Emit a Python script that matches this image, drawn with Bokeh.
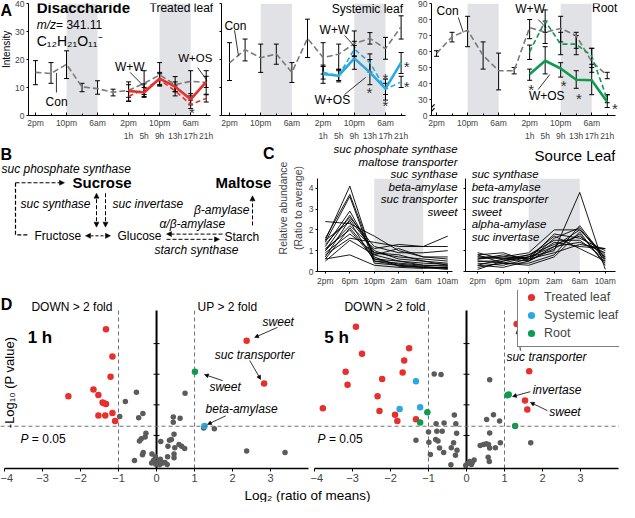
import math
from bokeh.plotting import figure
from bokeh.layouts import column, row
from bokeh.models import (Range1d, LinearAxis, FixedTicker, BoxAnnotation, Span, Label, LabelSet,
                          ColumnDataSource, Whisker, TeeHead, Arrow, NormalHead, Legend, LegendItem)
from bokeh.core.properties import value
from bokeh.embed import file_html
from bokeh.resources import INLINE

FONT = "Liberation Sans"
RED = "#e5302d"
BLUE = "#27a9e1"
GREEN = "#0f9b4e"
GRAYPT = "#5b5b5b"
CONCOL = "#7a7a7a"
SHADE = "#e1e2e6"

# ---------------- Panel A data ----------------
CON_HOURS = [0, 4, 8, 12, 16, 20, 24, 28, 32, 36, 40, 44]
TRT_HOURS = [24, 28, 32, 36, 40, 44]
CLOCK_TICKS = [0, 8, 16, 24, 32, 40]
CLOCK_LABELS = ["2pm", "10pm", "6am", "2pm", "10pm", "6am"]
ELAPSED_LABELS = ["1h", "5h", "9h", "13h", "17h", "21h"]
NIGHTS = [(8, 16), (32, 40)]

TL_CON = [15.4, 15.0, 18.3, 10.2, 9.6, 8.3, 9.0, 11.5, 14.5, 11.0, 12.2, 11.8]
TL_CON_LO = [11.0, 11.5, 13.2, 8.5, 7.6, 7.0, 5.2, 6.8, 10.8, 8.5, 7.0, 7.6]
TL_CON_HI = [19.6, 18.9, 23.1, 11.5, 12.4, 9.4, 12.0, 16.0, 18.9, 13.9, 16.0, 16.0]
TL_WW = [6.8, 9.4, 12.7, 8.8, 4.0, 6.1]
TL_WW_LO = [5.0, 7.5, 10.5, 7.0, 2.5, 4.8]
TL_WW_HI = [8.6, 11.3, 14.9, 10.6, 5.5, 7.4]
TL_WOS = [8.8, 8.2, 13.2, 10.3, 5.8, 12.0]
TL_WOS_LO = [6.5, 6.5, 11.0, 8.5, 3.8, 10.0]
TL_WOS_HI = [11.0, 10.0, 15.4, 12.0, 7.8, 14.0]

SL_CON = [18.8, 23.5, 20.6, 22.0, 15.4, 27.5, 20.7, 21.9, 25.7, 27.5, 23.9, 31.7]
SL_CON_LO = [12.5, 19.5, 15.4, 18.3, 11.8, 20.7, 14.8, 16.5, 21.3, 25.5, 20.1, 27.3]
SL_CON_HI = [26.0, 27.3, 25.5, 25.5, 18.9, 34.4, 26.0, 25.5, 30.2, 29.6, 27.9, 35.6]
SL_WW = [15.4, 14.2, 23.7, 18.9, 9.4, 12.0]
SL_WW_LO = [13.0, 12.5, 21.0, 15.5, 7.5, 10.0]
SL_WW_HI = [17.5, 16.0, 26.5, 22.0, 11.5, 14.0]
SL_WOS = [14.8, 14.2, 20.4, 15.4, 9.6, 18.9]
SL_WOS_LO = [11.5, 12.0, 16.5, 11.0, 5.5, 15.0]
SL_WOS_HI = [18.0, 16.5, 25.0, 20.0, 13.0, 22.5]

RT_CON = [58.8, 69.2, 73.3, 57.5, 48.0, 48.0, 75.0, 72.0, 74.4, 70.0, 53.7, 45.0]
RT_CON_LO = [57.0, 66.0, 63.0, 49.0, 36.0, 46.0, 68.0, 65.0, 66.0, 62.0, 47.0, 43.0]
RT_CON_HI = [60.5, 72.0, 82.0, 66.0, 59.0, 50.0, 80.0, 79.0, 82.0, 72.0, 62.0, 47.0]
RT_WW = [59.8, 79.0, 64.6, 64.6, 57.3, 30.2]
RT_WW_LO = [55.0, 72.0, 58.0, 58.0, 50.0, 28.0]
RT_WW_HI = [64.0, 86.0, 72.0, 70.0, 62.0, 33.0]
RT_WOS = [45.8, 54.2, 49.4, 42.3, 42.0, 28.5]
RT_WOS_LO = [42.0, 46.0, 44.0, 37.0, 33.0, 25.0]
RT_WOS_HI = [49.0, 63.0, 53.0, 48.0, 52.0, 33.0]
RT_YTICKS = [20, 30, 40, 50, 60, 70, 80, 90]
RT_YLABELS = ["0", "30", "40", "50", "60", "70", "80", "90"]

# significance asterisks (hour, intensity)
TL_STARS = [(40.3, 1.0)]
SL_STARS = [(35.9, 8.3), (40.0, 13.3), (40.0, 3.6), (45.4, 17.6), (45.4, 10.4)]
RT_STARS = [(24.4, 36.2), (32.8, 38.7), (36.7, 30.6), (46.0, 24.4)]

# ---------------- Panel C data ----------------
C_TIMES = [0, 4, 8, 12, 16, 20]
C_LABELS = ["2pm", "6pm", "10pm", "2am", "6am", "10am"]
C_LEFT = [
    [1.5, 4.1, 0.5, 0.3, 0.2, 0.2],
    [1.6, 3.7, 0.6, 0.35, 0.25, 0.15],
    [1.4, 3.6, 0.4, 0.3, 0.2, 0.1],
    [1.2, 2.9, 0.8, 0.5, 0.3, 0.3],
    [2.4, 2.3, 1.7, 1.0, 0.7, 0.6],
    [0.7, 2.5, 1.0, 0.6, 0.5, 0.4],
    [0.6, 0.8, 0.3, 0.2, 0.15, 0.2],
    [1.0, 2.2, 1.1, 1.3, 1.2, 1.7],
    [0.9, 1.8, 0.9, 0.8, 0.5, 0.3],
    [1.3, 2.6, 1.2, 0.9, 0.9, 1.0],
    [0.5, 1.5, 0.8, 1.1, 0.7, 0.7],
    [1.1, 2.0, 0.6, 0.5, 0.4, 0.35],
    [0.8, 1.6, 1.4, 1.2, 1.2, 1.2],
    [1.5, 2.4, 0.5, 0.4, 0.3, 0.25],
    [0.6, 2.1, 0.7, 0.25, 0.2, 0.15],
    [1.0, 2.7, 0.9, 0.7, 0.6, 0.5],
]
C_RIGHT = [
    [0.1, 0.5, 0.7, 1.0, 3.8, 0.1],
    [0.8, 0.9, 0.5, 1.6, 2.1, 0.5],
    [0.6, 0.7, 0.9, 2.0, 2.0, 0.8],
    [0.5, 0.4, 0.4, 0.8, 2.2, 0.6],
    [0.7, 0.6, 0.8, 1.3, 1.7, 0.7],
    [0.4, 0.3, 0.6, 1.8, 1.6, 1.0],
    [0.9, 0.6, 0.7, 1.2, 1.4, 0.9],
    [0.3, 0.6, 0.5, 1.1, 1.8, 0.4],
    [0.6, 0.8, 0.6, 1.4, 1.2, 1.1],
    [0.2, 0.4, 0.3, 0.7, 1.9, 0.3],
    [0.5, 0.5, 0.8, 1.5, 1.5, 0.6],
    [0.7, 0.7, 0.6, 0.9, 1.3, 1.1],
    [0.8, 0.4, 0.7, 1.7, 1.1, 0.5],
    [0.3, 0.2, 0.5, 1.2, 2.0, 0.7],
]
C_LEFT_GENES = ["suc phosphate synthase", "maltose transporter", "suc synthase",
                "beta-amylase", "suc transporter", "sweet"]
C_RIGHT_GENES = ["suc synthase", "beta-amylase", "suc transporter", "sweet",
                 "alpha-amylase", "suc invertase"]

# ---------------- Panel D data ----------------
D1_RED_X = [-1.33, -1.16, -1.21, -1.66, -1.53, -2.32, -1.42, -1.33, -1.38, -1.16, -1.53, -1.35, -1.09, 2.37, 2.83]
D1_RED_Y = [4.47, 3.58, 2.92, 2.50, 2.32, 2.28, 2.08, 2.03, 2.05, 1.73, 1.65, 1.65, 1.47, 4.09, 2.70]
D1_BLUE_X = [1.26]
D1_BLUE_Y = [1.31]
D1_GREEN_X = [1.01]
D1_GREEN_Y = [3.08]
D1_GRAY_X = [-0.53, -0.82, -0.36, -0.47, -0.97, 0.75, 0.44, 0.62, 0.44, 1.24, 1.52, -0.28, -0.40, -0.45,
             -0.30, 0.46, 0.34, 0.39, 0.11, 0.59, 0.66, 0.74, 0.48, 0.30, 0.46, 0.46, 0.29, -0.35, -0.37,
             -0.58, -0.12, -0.03, -0.08, 0.00, 0.05, 0.12, 0.16, 0.22, 0.28, 0.08, -0.02, -0.13, 0.10,
             2.37, 3.38]
D1_GRAY_Y = [2.41, 2.11, 1.72, 1.58, 1.62, 2.38, 1.60, 1.56, 1.43, 1.24, 1.22, 1.07, 0.89, 0.82,
             0.95, 1.04, 0.84, 0.87, 0.80, 0.70, 0.65, 0.57, 0.60, 0.65, 0.39, 0.27, 0.30, 0.44, 0.37,
             0.18, 0.39, 0.30, 0.18, 0.12, 0.08, 0.15, 0.10, 0.12, 0.05, 0.04, 0.06, 0.10, 0.22,
             0.49, 0.44]

D2_RED_X = [-2.91, -2.75, -1.51, -1.64, -3.18, -1.68, -3.13, -2.22, -2.34, -3.78, -2.29, -1.88, -1.82, -1.33,
            1.32, 1.65, 1.54, 1.60]
D2_RED_Y = [4.55, 3.67, 3.85, 3.45, 3.08, 3.06, 2.66, 2.84, 2.28, 1.89, 1.80, 1.68, 1.47, 1.53,
            4.64, 3.10, 2.14, 1.85]
D2_BLUE_X = [-1.33, -1.76, -1.22]
D2_BLUE_Y = [2.77, 1.86, 1.92]
D2_GREEN_X = [-1.03, -1.22, 1.08, 1.11, 1.28]
D2_GREEN_Y = [1.76, 1.42, 2.31, 2.34, 1.31]
D2_GRAY_X = [-0.85, -0.67, 0.61, -0.32, -0.80, -0.59, -0.28, -1.00, -0.78, -0.64, -0.26, -1.33, -0.99,
             -0.81, -0.75, -0.34, -0.71, -0.60, -0.40, -0.25, -0.29, -0.95, -0.41, 0.02, 0.08, 0.13,
             0.20, 0.15, -0.02, 0.53, 0.71, 0.87, 0.61, 0.36, 0.45, 0.52, 0.58, 0.89, 0.61, 0.76,
             0.57, 0.60, 1.69]
D2_GRAY_Y = [3.01, 2.99, 2.82, 1.67, 1.38, 1.41, 1.38, 1.11, 1.14, 1.14, 1.07, 0.84, 0.78,
             0.87, 0.82, 0.76, 0.59, 0.44, 0.60, 0.52, 0.35, 0.38, 0.04, 0.08, 0.15, 0.05,
             0.20, 0.12, 0.02, 1.52, 1.68, 1.47, 1.08, 0.67, 0.70, 0.73, 0.70, 0.76, 0.59, 0.60,
             0.29, 0.15, 0.76]
D_XTICKS = [-4, -3, -2, -1, 0, 1, 2, 3]
FOLD_LIMIT = 1.0           # log2(2)
P_LIMIT = 0.05
D_YTICKS = [1, 2, 3, 4]
D_YMIN = -0.08
D_LINE_TOP = 5.08          # top end of the threshold / zero lines


# ---------------- helpers ----------------
def base_fig(width, height, xr, yr, bl, br, bt, bb):
    p = figure(width=width, height=height, x_range=Range1d(*xr), y_range=Range1d(*yr),
               toolbar_location=None, output_backend="svg", x_axis_type=None, y_axis_type=None)
    p.min_border_left = bl
    p.min_border_right = br
    p.min_border_top = bt
    p.min_border_bottom = bb
    p.outline_line_color = None
    p.background_fill_color = "white"
    p.border_fill_color = "white"
    return p


def style_axis(ax, size="8.5px", tin=0, tout=3, standoff=2):
    ax.axis_line_color = "black"
    ax.axis_line_width = 1
    ax.major_tick_line_color = "black"
    ax.major_tick_in = tin
    ax.major_tick_out = tout
    ax.minor_tick_line_color = None
    ax.major_label_text_font = FONT
    ax.major_label_text_font_size = size
    ax.major_label_standoff = standoff


def text(p, x, y, t, size="12px", style="normal", align="left", baseline="middle", color="black", angle=0.0):
    p.add_layout(Label(x=x, y=y, text=t, text_font=FONT, text_font_size=size, text_font_style=style,
                       text_align=align, text_baseline=baseline, text_color=color, angle=angle))


def arrow(p, x0, y0, x1, y1, dash="solid", size=5, width=1.0, both=False):
    head = NormalHead(size=size, fill_color="black", line_color="black", line_width=0.5)
    start = NormalHead(size=size, fill_color="black", line_color="black", line_width=0.5) if both else None
    p.add_layout(Arrow(x_start=x0, y_start=y0, x_end=x1, y_end=y1, start=start, end=head,
                       line_color="black", line_width=width, line_dash=dash))


def stars(p, pts):
    src = ColumnDataSource(dict(x=[a for a, b in pts], y=[b for a, b in pts], t=["*"] * len(pts)))
    p.add_layout(LabelSet(x="x", y="y", text="t", source=src, text_font=value(FONT),
                          text_font_size="15px", text_align="center", text_baseline="middle",
                          text_color="#333333"))


def leaders(p, segs):
    p.segment(x0=[s[0] for s in segs], y0=[s[1] for s in segs], x1=[s[2] for s in segs],
              y1=[s[3] for s in segs], line_color="black", line_width=0.8)


def series(p, xs, ys, lo, hi, color, dash, width):
    p.line(xs, ys, line_color=color, line_width=width, line_dash=dash)
    src = ColumnDataSource(dict(x=xs, lo=lo, hi=hi))
    p.add_layout(Whisker(source=src, base="x", lower="lo", upper="hi", line_color="black", line_width=1,
                         upper_head=TeeHead(size=5, line_color="black", line_width=1),
                         lower_head=TeeHead(size=5, line_color="black", line_width=1)))


def time_panel(width, bl, br, xr, yr, yticks, ylabels, axis_end):
    p = base_fig(width, 144, xr, yr, bl, br, 3, 29)
    for a, b in NIGHTS:
        p.add_layout(BoxAnnotation(left=a, right=b, fill_color=SHADE, fill_alpha=1.0,
                                   line_color=None, level="underlay"))
    yax = LinearAxis(ticker=FixedTicker(ticks=yticks),
                     major_label_overrides={t: l for t, l in zip(yticks, ylabels)})
    style_axis(yax, "8.5px", 0, 2, 2)
    p.add_layout(yax, "left")
    ax1 = LinearAxis(ticker=FixedTicker(ticks=CLOCK_TICKS, minor_ticks=CON_HOURS), bounds=(xr[0], axis_end),
                     major_label_overrides={t: l for t, l in zip(CLOCK_TICKS, CLOCK_LABELS)})
    style_axis(ax1, "8.5px", 3, 0, 2)
    ax1.minor_tick_line_color = "black"
    ax1.minor_tick_in = 2
    ax1.minor_tick_out = 0
    p.add_layout(ax1, "below")
    ax2 = LinearAxis(ticker=FixedTicker(ticks=TRT_HOURS),
                     major_label_overrides={t: l for t, l in zip(TRT_HOURS, ELAPSED_LABELS)})
    style_axis(ax2, "8.5px", 0, 0, 0)
    ax2.axis_line_color = None
    ax2.major_tick_line_color = None
    p.add_layout(ax2, "below")
    return p


def full_panel(p, con, con_lo, con_hi, ww, ww_lo, ww_hi, wos, wos_lo, wos_hi, color):
    series(p, CON_HOURS, con, con_lo, con_hi, CONCOL, "6 3", 1.6)
    series(p, TRT_HOURS, ww, ww_lo, ww_hi, color, "5 3", 1.6)
    series(p, TRT_HOURS, wos, wos_lo, wos_hi, color, "solid", 2.6)


# ---------------- Panel A ----------------
A_TICKS = [0, 10, 20, 30, 40]
a0 = base_fig(12, 144, (0, 12), (144, 0), 0, 0, 0, 0)
text(a0, 0, 9, "A", "16px", "bold")
text(a0, 6, 59, "Intensity", "10px", align="center", angle=math.pi / 2)

a1 = time_panel(204, 15, 1, (-1.8, 46.4), (0, 40), A_TICKS, [str(t) for t in A_TICKS], 45.2)
full_panel(a1, TL_CON, TL_CON_LO, TL_CON_HI, TL_WW, TL_WW_LO, TL_WW_HI, TL_WOS, TL_WOS_LO, TL_WOS_HI, RED)
leaders(a1, [(5.4, 8.2, 5.4, 15.2), (24.4, 15.4, 28.5, 9.6), (41.8, 17.1, 44.2, 12.6)])
text(a1, 0.3, 38.4, "Disaccharide", "15px", "bold")
text(a1, 0.3, 32.4, "m/z", "12px", "italic")
text(a1, 5.3, 32.4, "= 341.11", "12px")
text(a1, 0.3, 26.6, "C\u2081\u2082H\u2082\u2081O\u2081\u2081\u207b", "14px")
text(a1, 29.4, 38.4, "Treated leaf", "12px")
text(a1, 2.6, 5.0, "Con", "12px")
text(a1, 20.5, 17.5, "W+W", "12px")
text(a1, 36.8, 20.4, "W+OS", "11.5px")
stars(a1, TL_STARS)

a2 = time_panel(199, 5, 3, (-2.05, 46.92), (0, 40), A_TICKS, ["" for t in A_TICKS], 45.2)
full_panel(a2, SL_CON, SL_CON_LO, SL_CON_HI, SL_WW, SL_WW_LO, SL_WW_HI, SL_WOS, SL_WOS_LO, SL_WOS_HI, BLUE)
leaders(a2, [(1.3, 30.4, 2.3, 21.4), (29.5, 28.6, 32.3, 24.3), (29.5, 7.5, 34.9, 13.6)])
text(a2, -1.3, 32.1, "Con", "12px")
text(a2, 26.2, 38.2, "Systemic leaf", "12px")
text(a2, 23.1, 30.4, "W+W", "12px")
text(a2, 21.8, 5.7, "W+OS", "12px")
stars(a2, SL_STARS)

a3 = time_panel(204, 15, 0, (-1.3, 47.16), (20, 90), RT_YTICKS, RT_YLABELS, 46.2)
full_panel(a3, RT_CON, RT_CON_LO, RT_CON_HI, RT_WW, RT_WW_LO, RT_WW_HI, RT_WOS, RT_WOS_LO, RT_WOS_HI, GREEN)
leaders(a3, [(5.6, 81.3, 6.9, 71.9), (26.2, 80.0, 28.2, 75.0), (26.2, 36.3, 29.2, 45.6)])
text(a3, 0.0, 85.6, "Con", "12px")
text(a3, 20.3, 86.3, "W+W", "12px")
text(a3, 46.6, 86.9, "Root", "12px", align="right")
text(a3, 23.8, 32.5, "W+OS", "12px")
stars(a3, RT_STARS)
# axis break marks on the root intensity axis
a3.segment(x0=[-1.3, -1.3], y0=[22.6, 25.0], x1=[-0.5, -0.5], y1=[24.6, 27.0], line_color="black", line_width=1.2)

# ---------------- Panel B (pathway diagram) ----------------
b = base_fig(274, 146, (0, 274), (146, 0), 0, 0, 0, 0)
text(b, 0, 11, "B", "16px", "bold")
text(b, 274, 10, "C", "16px", "bold", align="right")
text(b, 1, 28, "suc phosphate synthase", "12px", "italic")
text(b, 72, 44, "Sucrose", "15px", "bold")
text(b, 215, 44, "Maltose", "15px", "bold")
arrow(b, 15, 44, 64, 44, "4 2")
b.line([15, 15, 28], [44, 104, 104], line_color="black", line_width=1.2, line_dash="4 2")
text(b, 20, 68, "suc synthase", "12px", "italic")
text(b, 112, 68, "suc invertase", "12px", "italic")
arrow(b, 96, 56, 96, 95, "4 2", both=True)
arrow(b, 105, 56, 105, 95, "4 2")
text(b, 34, 105, "Fructose", "12px")
arrow(b, 85, 105, 110, 105, "3 2", both=True)
text(b, 117, 105, "Glucose", "12px")
text(b, 159, 91, "\u03b1/\u03b2-amylase", "12px", "italic")
arrow(b, 222, 103, 166, 103, "4 2")
arrow(b, 166, 109, 219, 109, "4 2")
text(b, 224, 106, "Starch", "12px")
text(b, 154, 121, "starch synthase", "12px", "italic")
text(b, 249, 75, "\u03b2-amylase", "12px", "italic", align="right")
arrow(b, 252, 93, 252, 59, "4 2")


# ---------------- Panel C ----------------
def c_panel(width, bl, br, xr, data, axis_end, ylabel=None, show_ylabels=True):
    p = base_fig(width, 146, xr, (0, 6.1), bl, br, 0, 19)
    p.add_layout(BoxAnnotation(left=8, right=16, bottom=0, top=4.45, fill_color=SHADE, fill_alpha=1.0,
                               line_color=None, level="underlay"))
    p.multi_line(xs=[C_TIMES] * len(data), ys=data, line_color="black", line_width=0.9)
    yt = [0, 1, 2, 3, 4]
    yax = LinearAxis(ticker=FixedTicker(ticks=yt), bounds=(0, 4.45),
                     major_label_overrides={t: (str(t) if show_ylabels else "") for t in yt})
    style_axis(yax, "8.5px", 0, 2, 2)
    if ylabel:
        yax.axis_label = ylabel
        yax.axis_label_text_font = FONT
        yax.axis_label_text_font_size = "10.5px"
        yax.axis_label_text_font_style = "normal"
        yax.axis_label_standoff = 2
    p.add_layout(yax, "left")
    xax = LinearAxis(ticker=FixedTicker(ticks=C_TIMES), bounds=(xr[0], axis_end),
                     major_label_overrides={t: l for t, l in zip(C_TIMES, C_LABELS)})
    style_axis(xax, "8.5px", 0, 2, 2)
    p.add_layout(xax, "below")
    return p


c1 = c_panel(184, 40, 0, (-1.28, 21.76), C_LEFT, 20.8, "Relative abundance\n(Ratio to average)")
for i, g in enumerate(C_LEFT_GENES):
    text(c1, 21.6, 5.87 - i * 0.6, g, "11.5px", "italic", align="right")
c2 = c_panel(161, 7, 4, (-1.9, 21.6), C_RIGHT, 21.6, show_ylabels=False)
for i, g in enumerate(C_RIGHT_GENES):
    text(c2, -0.94, 4.66 - i * 0.6, g, "11.5px", "italic")
text(c2, 21.6, 5.58, "Source Leaf", "15px", align="right")


# ---------------- Panel D ----------------
def volcano(width, xr, gx, gy, rx, ry, bx, by, gnx, gny):
    p = base_fig(width, 198, xr, (D_YMIN, 5.735), 0, 0, 0, 20)
    p.segment(x0=[-FOLD_LIMIT, FOLD_LIMIT], y0=[D_YMIN, D_YMIN], x1=[-FOLD_LIMIT, FOLD_LIMIT],
              y1=[D_LINE_TOP, D_LINE_TOP], line_color="#707070", line_width=1, line_dash="4 3")
    p.add_layout(Span(location=-math.log10(P_LIMIT), dimension="width", line_color="#707070", line_width=1,
                      line_dash="4 3"))
    p.segment(x0=[0], y0=[D_YMIN], x1=[0], y1=[D_LINE_TOP], line_color="black", line_width=2)
    p.scatter([0] * len(D_YTICKS), D_YTICKS, marker="dash", size=6, line_color="black", line_width=1)
    p.scatter(gx, gy, size=5.5, fill_color=GRAYPT, line_color=None)
    r_red = p.scatter(rx, ry, size=6.5, fill_color=RED, line_color=None)
    r_blue = p.scatter(bx, by, size=6.5, fill_color=BLUE, line_color=None)
    r_green = p.scatter(gnx, gny, size=6.5, fill_color=GREEN, line_color=None)
    xax = LinearAxis(ticker=FixedTicker(ticks=D_XTICKS), bounds=(-4, 4))
    style_axis(xax, "11px", 0, 3, 2)
    xax.axis_line_width = 1.5
    p.add_layout(xax, "below")
    return p, r_red, r_blue, r_green


d1, _, _, _ = volcano(310, (-4.105, 4.05), D1_GRAY_X, D1_GRAY_Y, D1_RED_X, D1_RED_Y,
                      D1_BLUE_X, D1_BLUE_Y, D1_GREEN_X, D1_GREEN_Y)
text(d1, -4.1, 5.28, "D", "16px", "bold")
text(d1, -1.16, 5.18, "DOWN > 2 fold", "12px", align="right")
text(d1, 1.08, 5.18, "UP > 2 fold", "12px")
text(d1, -3.39, 4.2, "1 h", "17px", "bold")
text(d1, -3.58, 0.9, "P", "12px", "italic")
text(d1, -3.28, 0.9, "= 0.05", "12px")
text(d1, -3.88, 2.73, "-Log\u2081\u2080 (P value)", "13px", align="center", angle=math.pi / 2)
text(d1, 2.79, 4.72, "sweet", "12px", "italic")
arrow(d1, 3.18, 4.53, 2.58, 4.2, size=4, width=0.8)
text(d1, 1.53, 3.64, "suc transporter", "12px", "italic")
arrow(d1, 2.45, 3.45, 2.74, 2.83, size=4, width=0.8)
text(d1, 1.39, 2.57, "sweet", "12px", "italic")
arrow(d1, 1.74, 2.79, 1.26, 2.99, size=4, width=0.8)
text(d1, 1.29, 1.88, "beta-amylase", "12px", "italic")
arrow(d1, 1.82, 1.64, 1.34, 1.36, size=4, width=0.8)

d2, rr, rb, rg = volcano(309, (-4.105, 4.026), D2_GRAY_X, D2_GRAY_Y, D2_RED_X, D2_RED_Y,
                         D2_BLUE_X, D2_BLUE_Y, D2_GREEN_X, D2_GREEN_Y)
text(d2, -1.08, 5.18, "DOWN > 2 fold", "12px", align="right")
text(d2, -3.74, 4.2, "5 h", "17px", "bold")
text(d2, -3.92, 0.9, "P", "12px", "italic")
text(d2, -3.62, 0.9, "= 0.05", "12px")
text(d2, 1.05, 3.55, "suc transporter", "12px", "italic")
arrow(d2, 1.42, 3.77, 1.34, 4.46, size=4, width=0.8)
text(d2, 1.74, 2.5, "invertase", "12px", "italic")
arrow(d2, 1.68, 2.43, 1.21, 2.27, size=4, width=0.8)
text(d2, 2.18, 1.75, "sweet", "12px", "italic")
arrow(d2, 2.13, 1.81, 1.68, 2.08, size=4, width=0.8)
legend = Legend(items=[LegendItem(label="Treated leaf", renderers=[rr]),
                       LegendItem(label="Systemic leaf", renderers=[rb]),
                       LegendItem(label="Root", renderers=[rg])],
                location=(207, 121), label_text_font=FONT, label_text_font_size="12.5px",
                glyph_width=18, glyph_height=18, label_height=18, spacing=-1, padding=4, margin=0,
                label_standoff=4, border_line_color="black", border_line_width=1,
                background_fill_color="white", background_fill_alpha=1.0)
d2.add_layout(legend)

cap = base_fig(619, 14, (0, 619), (0, 14), 0, 0, 0, 0)
text(cap, 307, 7, "Log\u2082 (ratio of means)", "13.5px", align="center")

layout = column(row(a0, a1, a2, a3), row(b, c1, c2), row(d1, d2), cap)
open("out.html", "w").write(file_html(layout, INLINE, "Disaccharide"))
